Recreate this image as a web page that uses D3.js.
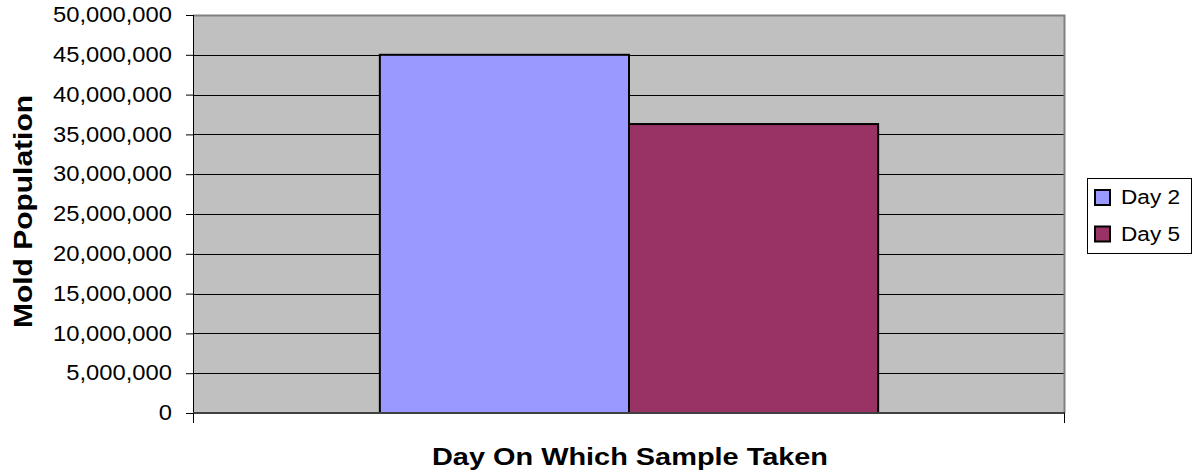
<!DOCTYPE html>
<html><head><meta charset="utf-8">
<script src="https://cdn.jsdelivr.net/npm/d3@7"></script>
<style>body{margin:0;background:#fff}svg{display:block}text{font-family:"Liberation Sans",Arial,sans-serif}</style>
</head><body><svg id="c" width="1197" height="475"></svg>
<script>
const categories = [""];
const seriesNames = ["Day 2", "Day 5"];
const seriesValues = [45000000, 36300000];
const seriesColors = ["#9999ff", "#993366"];
const yTicks = [0,5000000,10000000,15000000,20000000,25000000,30000000,35000000,40000000,45000000,50000000];

const svg = d3.select("#c");
const L = 193, R = 1065, T = 15, B = 413;
const y = d3.scaleLinear().domain([0, 50000000]).range([B, T]);
const x0 = d3.scaleBand().domain(categories).range([L, R]);
const bw = (R - L) / 3.5;
const x1 = d3.scaleBand().domain(seriesNames).range([0, 2 * bw]);

function stretch(sel, k) {
  sel.each(function () {
    const w = this.getComputedTextLength();
    d3.select(this).attr("textLength", w * k).attr("lengthAdjust", "spacingAndGlyphs");
  });
}

svg.append("rect").attr("x", L).attr("y", T).attr("width", R - L).attr("height", B - T).attr("fill", "#c0c0c0");
// gridlines
svg.append("g").selectAll("line").data(yTicks.filter(d => d > 0 && d < 50000000)).join("line")
  .attr("x1", L).attr("x2", R).attr("y1", d => Math.round(y(d)) + 0.5).attr("y2", d => Math.round(y(d)) + 0.5)
  .attr("stroke", "#000").attr("stroke-width", 1);
// border top/right grey
svg.append("path").attr("d", `M${L},${T+0.5}H${R-0.5}V${B}`).attr("fill", "none").attr("stroke", "#808080").attr("stroke-width", 2);

// bars
const gx = x0.bandwidth() / 2 - bw;
svg.append("g").selectAll("rect").data(seriesNames).join("rect")
  .attr("x", (d) => x0("") + gx + x1(d))
  .attr("y", (d, i) => y(seriesValues[i]))
  .attr("width", x1.bandwidth())
  .attr("height", (d, i) => B - y(seriesValues[i]))
  .attr("fill", (d, i) => seriesColors[i])
  .attr("stroke", "#000").attr("stroke-width", 2);

// y axis
const yAxis = d3.axisLeft(y).tickValues(yTicks).tickSize(7).tickPadding(14)
  .tickFormat(d => d3.format(",")(d));
const ya = svg.append("g").attr("transform", `translate(${L},0)`).call(yAxis);
ya.select(".domain").remove();
ya.selectAll("line").attr("stroke", "#000");
ya.selectAll("text").attr("font-size", 22).attr("fill", "#000")
  .attr("font-family", '"Liberation Sans",Arial,sans-serif').attr("dy", "0.3em");
stretch(ya.selectAll("text"), 1.08);
svg.append("line").attr("x1", L + 0.5).attr("x2", L + 0.5).attr("y1", T).attr("y2", B + 10).attr("stroke", "#000");
// x axis
svg.append("line").attr("x1", L).attr("x2", R).attr("y1", B).attr("y2", B).attr("stroke", "#404040").attr("stroke-width", 2);
svg.append("g").selectAll("line").data([L, R]).join("line")
  .attr("x1", d => d + 0.5 - (d === R ? 1 : 0)).attr("x2", d => d + 0.5 - (d === R ? 1 : 0)).attr("y1", B).attr("y2", B + 10).attr("stroke", "#000");

// axis titles
svg.append("text").attr("x", 630).attr("y", 465).attr("text-anchor", "middle")
  .attr("font-size", 24).attr("font-weight", "bold")
  .attr("textLength", 396).attr("lengthAdjust", "spacingAndGlyphs")
  .text("Day On Which Sample Taken");
svg.append("text").attr("transform", "translate(32,211.5) rotate(-90)").attr("text-anchor", "middle")
  .attr("font-size", 25).attr("font-weight", "bold")
  .attr("textLength", 233).attr("lengthAdjust", "spacingAndGlyphs")
  .text("Mold Population");

// legend
svg.append("rect").attr("x", 1087.5).attr("y", 178.5).attr("width", 104).attr("height", 75)
  .attr("fill", "#fff").attr("stroke", "#000").attr("stroke-width", 1);
const lg = svg.append("g").selectAll("g").data(seriesNames).join("g")
  .attr("transform", (d, i) => `translate(1095,${197 + i * 36.5})`);
lg.append("rect").attr("x", 0).attr("y", -7).attr("width", 15).attr("height", 15)
  .attr("fill", (d, i) => seriesColors[i]).attr("stroke", "#000").attr("stroke-width", 2);
const lt = lg.append("text").attr("x", 26).attr("y", 7).attr("font-size", 20).text(d => d);
stretch(lt, 1.13);
</script></body></html>
